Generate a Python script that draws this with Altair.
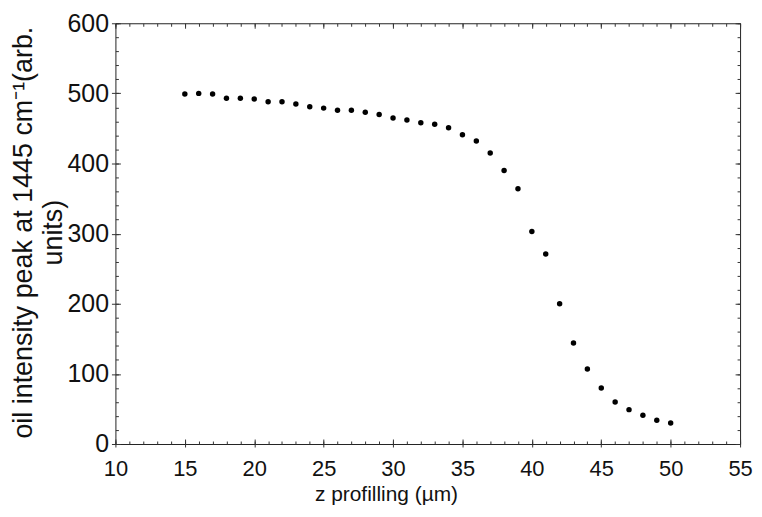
import altair as alt
import pandas as pd

z_um = list(range(15, 51))
intensity = [499, 500, 499, 493, 493, 492, 488, 488, 485, 481, 479, 476, 476, 473,
             470, 465, 462, 458, 456, 451, 441, 432, 415, 390, 364, 303, 271, 200,
             144, 107, 80, 60, 49, 41, 34, 30]

x_major = list(range(10, 56, 5))
x_minor = list(range(10, 56, 1))
y_major = list(range(0, 601, 100))
y_minor = list(range(0, 601, 20))

df = pd.DataFrame({"z": z_um, "I": intensity})

W, H = 628, 423
FONT = "Liberation Sans"
TC = "#333333"

xs = alt.Scale(domain=[10, 55], nice=False, zero=False)
ys = alt.Scale(domain=[0, 600], nice=False)

def blank_axis(orient, values, size, offset):
    return alt.Axis(orient=orient, values=values, tickSize=size, offset=offset,
                    labels=False, domain=False, grid=False, title=None,
                    tickColor=TC, tickWidth=1)

points = alt.Chart(df).mark_circle(size=30, color="black", opacity=1).encode(
    x=alt.X("z:Q", scale=xs, axis=alt.Axis(
        orient="bottom", values=x_major, tickSize=3, tickColor=TC,
        labelFontSize=22, labelFont=FONT, labelColor="#111", labelPadding=12,
        labelFlush=False, labelOverlap=False, domain=False, grid=False,
        title="z profilling (µm)", titleFont=FONT, titleFontSize=21,
        titleFontWeight="normal", titleColor="#111", titleX=272, titleY=57,
        titleBaseline="alphabetic", titleAlign="center")),
    y=alt.Y("I:Q", scale=ys, axis=alt.Axis(
        orient="left", values=y_major, tickSize=4, tickColor=TC,
        labelFontSize=25, labelFont=FONT, labelColor="#111", labelPadding=3,
        labelFlush=False, labelOverlap=False, domain=False, grid=False,
        title=["oil intensity peak at 1445 cm\u207b\u00b9(arb.", "units)"],
        titleFont=FONT, titleFontSize=27, titleFontWeight="normal", titleColor="#111",
        titleX=-92, titleY=210, titleAngle=270, titleAlign="center",
        titleBaseline="middle", titleLineHeight=30)),
)

def axis_layer(xorient, xvals, xsize, xoff, yorient, yvals, ysize, yoff):
    return alt.Chart(df).mark_point(opacity=0).encode(
        x=alt.X("z:Q", scale=xs, axis=blank_axis(xorient, xvals, xsize, xoff)),
        y=alt.Y("I:Q", scale=ys, axis=blank_axis(yorient, yvals, ysize, yoff)),
    )

# inward ticks at bottom and left edges
l2 = axis_layer("top", x_minor, 3, -H, "right", y_minor, 3, -W)
l3 = axis_layer("top", x_major, 5, -H, "right", y_major, 5, -W)
# inward ticks at top and right edges
l4 = axis_layer("bottom", x_minor, 3, -H, "left", y_minor, 3, -W)
l5 = axis_layer("bottom", x_major, 5, -H, "left", y_major, 5, -W)

chart = alt.layer(points, l2, l3, l4, l5).resolve_axis(
    x="independent", y="independent"
).properties(
    width=W, height=H,
    autosize=alt.AutoSizeParams(type="none"),
    padding={"left": 108, "top": 14, "right": 14, "bottom": 64},
    background="white",
).configure_view(stroke="#222222", strokeWidth=1)

chart.save("out.html", embed_options={"renderer": "svg", "actions": False})
